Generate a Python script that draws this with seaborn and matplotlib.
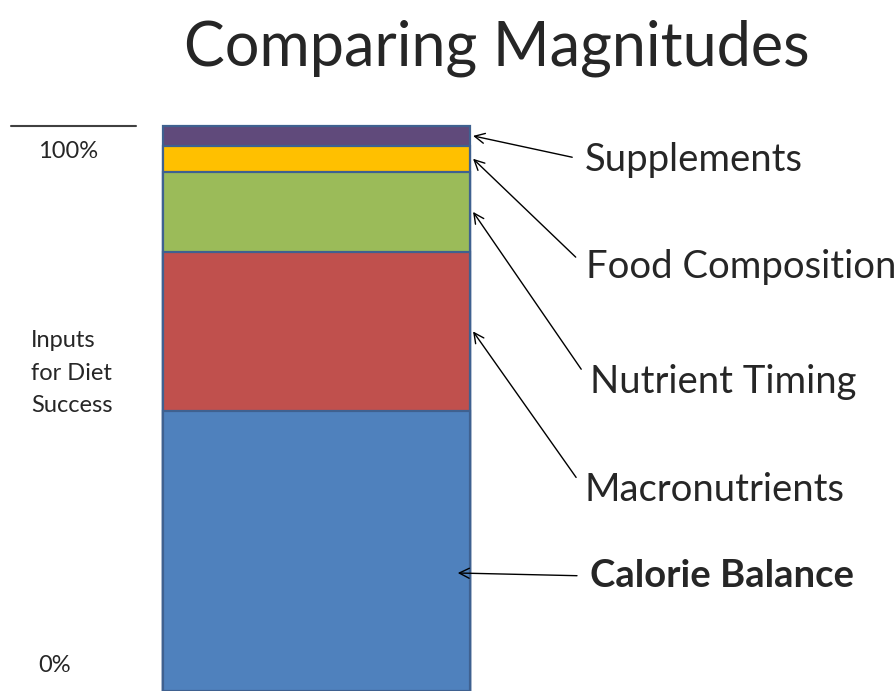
import numpy as np
import matplotlib
matplotlib.use("Agg")
import matplotlib.pyplot as plt
import seaborn as sns

# datos del grafico
categories = ["Calorie Balance", "Macronutrients", "Nutrient Timing", "Food Composition", "Supplements"]
shares = [49.6, 28.1, 14.2, 4.6, 3.5]
colors = ["#4F81BD", "#C0504D", "#9BBB59", "#FFC000", "#604A7B"]
tick_labels = ["0%", "100%"]
side_label = "Inputs\nfor Diet\nSuccess"
title = "Comparing Magnitudes"

sns.set_style("white")
plt.rcParams["font.family"] = ["Lato", "DejaVu Sans"]

W, H = 895, 691
fig = plt.figure(figsize=(W / 100, H / 100), dpi=100)
ax = fig.add_axes([163 / W, 0, 307 / W, 565 / H])

# barras apiladas: se dibujan los acumulados de arriba hacia abajo
tops = np.cumsum(shares)
for i in reversed(range(len(shares))):
    sns.barplot(x=[0], y=[tops[i]], color=colors[i], width=1, saturation=1,
                edgecolor="#3F6190", linewidth=1.6, ax=ax)
for p in ax.patches:
    p.set_clip_on(False)
ax.set_xlim(-0.5, 0.5)
ax.set_ylim(0, tops[-1])
ax.axis("off")

# eje izquierdo simplificado
ax.plot([11, 136], [tops[-1], tops[-1]], color="#404040", lw=1.5, clip_on=False,
        transform=matplotlib.transforms.blended_transform_factory(
            matplotlib.transforms.IdentityTransform(), ax.transData))
fig.text(38 / W, 1 - 152 / H, tick_labels[1], fontsize=17, va="center", ha="left")
fig.text(38 / W, 1 - 665 / H, tick_labels[0], fontsize=17, va="center", ha="left")
fig.text(31 / W, 1 - 373 / H, side_label, fontsize=17, va="center", ha="left", linespacing=1.68)

fig.text(497 / W, 1 - 48 / H, title, fontsize=44, ha="center", va="center")

# etiquetas con flechas
text_pos = {"Supplements": (585, 160), "Food Composition": (586, 267),
            "Nutrient Timing": (590, 382), "Macronutrients": (585, 490),
            "Calorie Balance": (590, 576)}
for i, cat in enumerate(categories):
    tx, ty = text_pos[cat]
    if cat == "Calorie Balance":
        xy, xycoords, weight = (0.96, H - ty + 3), ("axes fraction", "figure pixels"), "bold"
    else:
        xy, xycoords, weight = (1.01, tops[i] - shares[i] / 2), ("axes fraction", "data"), "normal"
    ax.annotate(cat, xy=xy, xycoords=xycoords, xytext=(tx, H - ty),
                textcoords="figure pixels", fontsize=27.5, fontweight=weight,
                ha="left", va="center", annotation_clip=False,
                arrowprops=dict(arrowstyle="->", color="black", lw=1,
                                relpos=(0, 0.5), shrinkA=7, shrinkB=0,
                                mutation_scale=18))

fig.savefig("out.png", dpi=100)
